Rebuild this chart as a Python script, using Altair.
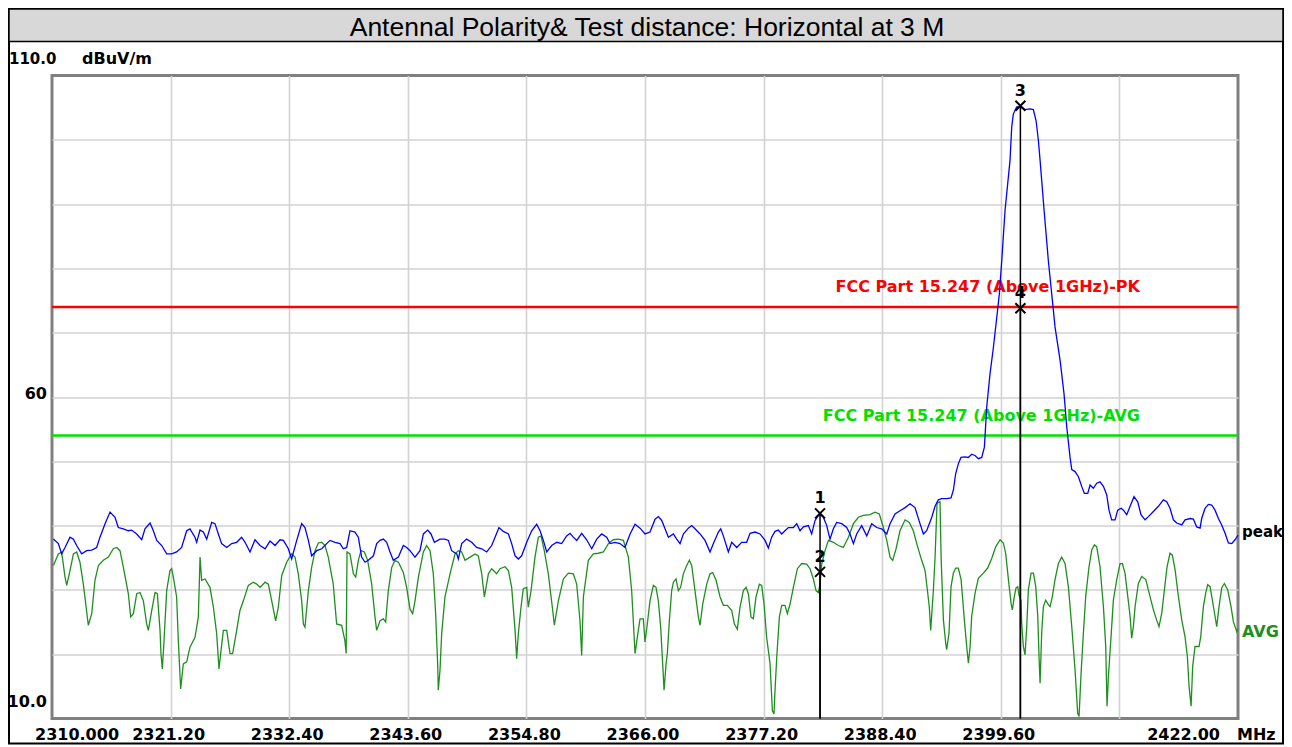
import altair as alt
import pandas as pd

# ---------------- data ----------------
TITLE = "Antennal Polarity& Test distance: Horizontal at 3 M"
UNIT_Y = "dBuV/m"
UNIT_X = "MHz"

PEAK_FREQ = [
    2310.13, 2310.60, 2310.91, 2311.23, 2311.70, 2312.02, 2312.33, 2312.80, 2313.27, 2313.75,
    2314.22, 2314.53, 2315.01, 2315.48, 2315.95, 2316.26, 2316.74, 2317.21, 2317.52, 2318.00,
    2318.47, 2318.78, 2319.26, 2319.57, 2319.89, 2320.36, 2320.83, 2321.30, 2321.77, 2322.24,
    2322.72, 2323.03, 2323.50, 2323.66, 2323.98, 2324.29, 2324.61, 2325.08, 2325.39, 2325.71,
    2326.02, 2326.50, 2326.97, 2327.44, 2327.91, 2328.23, 2328.70, 2329.17, 2329.65, 2330.12,
    2330.59, 2331.06, 2331.53, 2331.85, 2332.32, 2332.63, 2333.11, 2333.58, 2333.89, 2334.21,
    2334.52, 2335.00, 2335.47, 2335.94, 2336.25, 2336.73, 2337.20, 2337.51, 2337.83, 2338.14,
    2338.61, 2338.93, 2339.24, 2339.56, 2339.87, 2340.35, 2340.66, 2340.98, 2341.29, 2341.61,
    2341.92, 2342.23, 2342.71, 2343.18, 2343.49, 2343.81, 2344.28, 2344.75, 2345.07, 2345.48,
    2345.79, 2346.11, 2346.64, 2347.11, 2347.43, 2347.74, 2348.22, 2348.37, 2348.69, 2349.16,
    2349.63, 2350.10, 2350.58, 2351.05, 2351.52, 2351.84, 2352.21, 2352.62, 2353.10, 2353.41,
    2353.73, 2354.04, 2354.35, 2354.83, 2355.30, 2355.77, 2356.09, 2356.40, 2356.72, 2357.19,
    2357.66, 2358.13, 2358.60, 2358.92, 2359.23, 2359.55, 2360.02, 2360.49, 2360.97, 2361.44,
    2361.91, 2362.38, 2362.70, 2363.17, 2363.64, 2364.11, 2364.59, 2365.06, 2365.53, 2366.00,
    2366.47, 2366.95, 2367.26, 2367.58, 2367.89, 2368.21, 2368.68, 2368.99, 2369.31, 2369.62,
    2370.09, 2370.41, 2370.72, 2371.20, 2371.67, 2372.14, 2372.46, 2372.93, 2373.15, 2373.40,
    2373.87, 2374.19, 2374.66, 2375.13, 2375.60, 2375.92, 2376.39, 2376.86, 2377.34, 2377.65,
    2377.96, 2378.28, 2378.59, 2378.91, 2379.22, 2379.54, 2380.01, 2380.33, 2380.64, 2380.96,
    2381.43, 2381.74, 2382.06, 2382.47, 2382.84, 2383.16, 2383.47, 2383.79, 2384.10, 2384.58,
    2385.05, 2385.36, 2385.68, 2385.99, 2386.46, 2386.94, 2387.41, 2387.88, 2388.35, 2388.83,
    2389.14, 2389.61, 2390.08, 2390.56, 2391.03, 2391.50, 2391.97, 2392.29, 2392.60, 2393.08,
    2393.39, 2393.70, 2394.02, 2394.49, 2394.90, 2395.12, 2395.34, 2395.59, 2395.84, 2396.22,
    2396.53, 2396.85, 2397.16, 2397.48, 2397.80, 2398.05, 2398.27, 2398.58, 2398.90, 2399.22,
    2399.46, 2399.69, 2400.00, 2400.47, 2400.63, 2400.78, 2401.10, 2401.42, 2401.89, 2402.36,
    2402.67, 2402.93, 2403.15, 2403.31, 2403.69, 2404.09, 2404.41, 2404.72, 2405.20, 2405.57,
    2405.83, 2406.14, 2406.30, 2406.61, 2406.93, 2407.24, 2407.49, 2407.81, 2408.03, 2408.34,
    2408.66, 2408.97, 2409.29, 2409.60, 2409.82, 2410.07, 2410.39, 2410.64, 2410.96, 2411.18,
    2411.49, 2411.81, 2412.18, 2412.53, 2412.84, 2413.22, 2413.54, 2414.01, 2414.48, 2414.95,
    2415.27, 2415.58, 2415.90, 2416.21, 2416.69, 2417.00, 2417.47, 2417.79, 2418.10, 2418.42,
    2418.57, 2418.89, 2419.20, 2419.52, 2419.83, 2420.15, 2420.46, 2420.78, 2421.09, 2421.41,
    2421.72, 2422.00,
]
PEAK_LEVEL = [
    37.9, 37.2, 35.6, 36.6, 38.2, 37.9, 36.9, 35.6, 36.1, 36.2,
    36.6, 38.2, 40.3, 42.1, 41.3, 39.7, 39.5, 39.2, 39.3, 38.7,
    37.8, 39.5, 40.4, 39.2, 37.7, 36.9, 35.6, 35.6, 35.9, 36.6,
    39.2, 39.5, 38.2, 37.4, 39.3, 39.0, 37.9, 40.5, 40.3, 38.7,
    37.2, 36.6, 37.2, 37.4, 38.2, 37.4, 35.9, 37.8, 36.9, 36.4,
    37.6, 36.9, 37.8, 37.7, 36.4, 34.8, 37.7, 40.3, 39.7, 37.7,
    35.3, 36.1, 36.4, 37.2, 37.7, 37.4, 37.2, 36.4, 36.6, 39.2,
    39.0, 38.2, 35.1, 34.3, 34.6, 35.3, 37.2, 37.7, 37.9, 37.4,
    35.9, 34.6, 35.1, 36.9, 36.6, 36.1, 35.1, 36.1, 38.7, 39.3,
    38.7, 37.4, 37.9, 37.9, 37.7, 36.1, 35.6, 34.8, 37.2, 37.9,
    37.4, 36.6, 36.4, 35.9, 36.9, 38.2, 39.7, 39.1, 38.7, 37.2,
    35.3, 34.8, 35.3, 37.4, 39.2, 40.2, 39.2, 37.7, 35.9, 36.9,
    37.4, 37.2, 38.4, 38.8, 38.2, 37.7, 38.8, 37.8, 36.4, 37.9,
    38.7, 38.2, 37.2, 37.4, 37.2, 36.6, 38.7, 40.2, 39.6, 38.7,
    39.0, 41.0, 41.4, 40.8, 39.5, 38.2, 38.7, 37.9, 37.2, 38.7,
    39.6, 40.0, 39.5, 38.7, 37.7, 35.9, 37.2, 39.0, 39.5, 38.4,
    35.9, 37.4, 36.6, 37.4, 37.4, 38.8, 39.0, 38.7, 37.7, 36.5,
    38.2, 39.1, 39.3, 38.7, 39.2, 39.7, 39.7, 40.3, 39.2, 39.8,
    40.0, 38.7, 40.8, 41.8, 41.3, 40.0, 37.9, 39.5, 40.5, 40.3,
    39.7, 38.7, 37.2, 38.7, 40.0, 38.4, 40.3, 39.7, 39.5, 38.7,
    40.3, 41.8, 42.3, 42.8, 43.4, 42.8, 40.3, 38.7, 39.2, 41.3,
    43.0, 44.0, 44.2, 44.2, 44.3, 45.5, 48.1, 49.6, 50.6, 50.7,
    50.6, 51.1, 50.9, 50.4, 50.6, 52.2, 58.4, 63.6, 67.7, 72.4,
    76.0, 81.2, 89.0, 96.8, 102.0, 104.0, 105.1, 105.1, 104.7, 104.8,
    104.7, 103.0, 99.9, 96.8, 89.0, 81.2, 76.0, 70.9, 65.7, 60.5,
    55.3, 50.6, 48.7, 48.4, 47.6, 46.1, 45.0, 45.0, 46.3, 45.8,
    46.6, 46.8, 46.1, 44.8, 42.4, 40.9, 40.9, 42.4, 42.7, 42.4,
    41.7, 43.0, 44.5, 43.7, 41.7, 40.9, 41.4, 42.2, 43.0, 44.0,
    43.7, 42.7, 40.9, 40.4, 40.1, 40.9, 41.1, 41.0, 39.8, 39.6,
    41.1, 42.7, 43.3, 43.2, 42.4, 41.1, 40.1, 38.8, 37.3, 37.2,
    37.8, 38.5,
]

AVG_FREQ = [
    2310.13, 2310.60, 2310.91, 2311.23, 2311.39, 2311.70, 2312.02, 2312.33, 2312.64, 2312.96,
    2313.43, 2313.75, 2314.06, 2314.38, 2314.85, 2315.32, 2315.79, 2316.11, 2316.42, 2316.74,
    2317.21, 2317.43, 2317.68, 2318.00, 2318.31, 2318.63, 2318.94, 2319.10, 2319.42, 2319.73,
    2319.95, 2320.20, 2320.29, 2320.42, 2320.58, 2320.83, 2321.14, 2321.30, 2321.46, 2321.77,
    2321.93, 2322.15, 2322.40, 2322.72, 2323.03, 2323.50, 2323.82, 2323.98, 2324.13, 2324.45,
    2324.92, 2325.24, 2325.55, 2325.77, 2325.93, 2326.18, 2326.50, 2326.81, 2327.06, 2327.44,
    2327.75, 2328.07, 2328.54, 2329.01, 2329.33, 2329.65, 2330.12, 2330.43, 2330.75, 2331.12,
    2331.37, 2331.69, 2332.16, 2332.63, 2332.95, 2333.26, 2333.58, 2333.74, 2333.89, 2334.21,
    2334.52, 2334.84, 2335.15, 2335.47, 2335.78, 2336.09, 2336.56, 2336.88, 2337.35, 2337.66,
    2337.78, 2337.86, 2338.14, 2338.46, 2338.68, 2338.93, 2339.18, 2339.50, 2339.81, 2340.19,
    2340.50, 2340.66, 2340.98, 2341.29, 2341.51, 2341.76, 2342.08, 2342.39, 2342.71, 2343.18,
    2343.49, 2343.81, 2344.06, 2344.28, 2344.60, 2345.07, 2345.38, 2345.70, 2346.01, 2346.23,
    2346.42, 2346.48, 2346.64, 2346.80, 2347.11, 2347.59, 2348.06, 2348.37, 2348.69, 2349.00,
    2349.48, 2349.95, 2350.26, 2350.58, 2350.83, 2351.21, 2351.52, 2351.99, 2352.31, 2352.78,
    2353.10, 2353.41, 2353.73, 2353.88, 2354.04, 2354.29, 2354.51, 2354.83, 2354.98, 2355.24,
    2355.61, 2355.93, 2356.18, 2356.49, 2356.87, 2357.25, 2357.44, 2357.82, 2358.29, 2358.76,
    2359.23, 2359.55, 2359.86, 2360.02, 2360.18, 2360.65, 2361.12, 2361.59, 2362.07, 2362.54,
    2363.01, 2363.48, 2363.96, 2364.43, 2364.74, 2365.06, 2365.37, 2365.53, 2365.84, 2366.00,
    2366.22, 2366.47, 2366.79, 2367.04, 2367.26, 2367.48, 2367.67, 2367.80, 2367.99, 2368.11,
    2368.30, 2368.52, 2368.68, 2368.93, 2369.15, 2369.37, 2369.62, 2369.94, 2370.19, 2370.41,
    2370.72, 2371.04, 2371.20, 2371.45, 2371.83, 2372.14, 2372.39, 2372.71, 2373.09, 2373.40,
    2373.78, 2374.19, 2374.44, 2374.72, 2374.97, 2375.29, 2375.54, 2375.76, 2376.01, 2376.23,
    2376.48, 2376.80, 2377.02, 2377.24, 2377.49, 2377.81, 2378.03, 2378.18, 2378.28, 2378.44,
    2378.69, 2378.91, 2379.22, 2379.44, 2379.70, 2380.01, 2380.39, 2380.80, 2381.27, 2381.58,
    2381.90, 2382.15, 2382.37, 2382.53, 2382.69, 2383.00, 2383.32, 2383.79, 2384.26, 2384.73,
    2385.21, 2385.68, 2386.15, 2386.62, 2387.25, 2387.72, 2388.13, 2388.51, 2388.83, 2389.14,
    2389.39, 2389.71, 2390.08, 2390.56, 2390.96, 2391.34, 2391.66, 2392.13, 2392.45, 2392.67,
    2392.85, 2392.98, 2393.23, 2393.39, 2393.58, 2393.86, 2393.96, 2394.18, 2394.40, 2394.49,
    2394.71, 2394.90, 2395.12, 2395.34, 2395.59, 2395.85, 2396.16, 2396.38, 2396.54, 2396.70,
    2396.85, 2397.17, 2397.48, 2397.95, 2398.36, 2398.74, 2399.12, 2399.53, 2399.84, 2400.06,
    2400.32, 2400.57, 2400.69, 2400.88, 2401.04, 2401.20, 2401.32, 2401.51, 2401.57, 2401.73,
    2401.89, 2402.05, 2402.20, 2402.46, 2402.68, 2402.90, 2403.09, 2403.21, 2403.31, 2403.46,
    2403.62, 2403.84, 2404.09, 2404.25, 2404.47, 2404.72, 2405.04, 2405.35, 2405.67, 2405.98,
    2406.30, 2406.61, 2406.86, 2406.99, 2407.18, 2407.40, 2407.62, 2407.93, 2408.19, 2408.44,
    2408.66, 2408.97, 2409.29, 2409.51, 2409.63, 2409.76, 2410.01, 2410.23, 2410.55, 2410.86,
    2411.08, 2411.33, 2411.59, 2411.81, 2411.96, 2412.12, 2412.28, 2412.59, 2412.91, 2413.29,
    2413.69, 2414.01, 2414.32, 2414.54, 2414.80, 2415.05, 2415.30, 2415.58, 2415.80, 2416.06,
    2416.37, 2416.69, 2417.00, 2417.22, 2417.38, 2417.57, 2417.72, 2417.94, 2418.32, 2418.48,
    2418.73, 2418.95, 2419.14, 2419.36, 2419.58, 2419.83, 2419.99, 2420.21, 2420.46, 2420.71,
    2421.03, 2421.34, 2421.56, 2421.88, 2422.00,
]
AVG_LEVEL = [
    33.8, 35.6, 35.9, 32.0, 30.7, 33.0, 35.6, 35.9, 34.3, 30.9,
    24.5, 26.3, 31.5, 33.8, 34.6, 35.1, 36.4, 36.6, 36.1, 33.5,
    29.4, 25.8, 26.3, 29.4, 29.6, 28.3, 24.7, 23.7, 26.8, 29.6,
    29.4, 23.7, 20.1, 17.7, 22.1, 29.9, 33.0, 33.3, 32.0, 28.9,
    22.1, 14.6, 18.5, 18.8, 21.1, 22.6, 25.8, 35.1, 31.5, 31.7,
    30.4, 27.3, 23.2, 17.7, 20.1, 23.7, 23.7, 20.1, 20.1, 23.7,
    26.8, 28.3, 30.7, 31.2, 30.9, 30.4, 31.2, 30.9, 28.3, 25.2,
    27.3, 32.2, 34.3, 35.6, 35.1, 32.5, 28.3, 24.7, 24.2, 29.9,
    33.5, 36.1, 37.3, 37.4, 36.9, 35.1, 30.9, 24.7, 24.5, 22.1,
    20.1, 35.9, 35.6, 32.5, 32.0, 34.6, 36.1, 35.9, 34.6, 30.9,
    25.8, 23.7, 25.2, 25.5, 25.0, 29.9, 33.5, 34.6, 34.3, 32.7,
    30.4, 27.0, 26.3, 28.3, 32.0, 35.9, 36.9, 36.1, 32.5, 26.3,
    18.5, 14.4, 17.5, 23.2, 28.9, 32.5, 35.6, 36.1, 35.9, 34.6,
    35.1, 35.6, 35.3, 32.5, 28.9, 32.5, 33.3, 32.5, 33.3, 33.6,
    33.0, 30.4, 23.7, 19.3, 23.2, 27.3, 30.2, 30.4, 27.3, 29.9,
    35.1, 38.2, 38.4, 36.1, 32.5, 27.3, 24.5, 28.3, 31.7, 32.6,
    32.5, 30.9, 25.2, 19.8, 28.9, 34.6, 35.6, 35.7, 35.9, 37.2,
    37.8, 37.9, 37.7, 35.1, 29.9, 20.1, 23.7, 25.5, 25.5, 21.9,
    24.7, 28.3, 30.7, 30.4, 28.3, 24.2, 18.5, 14.4, 18.5, 20.1,
    25.2, 29.9, 31.2, 31.7, 29.9, 30.4, 32.5, 33.8, 34.6, 33.8,
    29.9, 25.8, 24.5, 27.8, 30.9, 32.5, 32.7, 31.5, 28.9, 27.6,
    27.6, 26.8, 24.7, 23.9, 27.3, 29.9, 30.4, 29.4, 25.8, 25.5,
    28.9, 30.9, 30.7, 27.8, 22.6, 18.5, 11.2, 10.7, 14.4, 19.5,
    25.8, 27.6, 27.6, 26.3, 27.8, 30.4, 33.3, 34.1, 34.0, 33.3,
    31.7, 29.9, 29.6, 30.9, 34.0, 36.1, 37.7, 37.4, 36.9, 36.6,
    38.2, 40.3, 41.3, 41.6, 41.7, 42.1, 41.8, 39.7, 37.7, 35.1,
    34.6, 36.4, 39.2, 40.9, 40.5, 39.2, 37.2, 34.6, 33.0, 29.9,
    27.3, 23.7, 29.9, 35.0, 43.5, 43.7, 35.2, 25.3, 21.7, 20.7,
    23.3, 30.5, 32.6, 33.4, 33.4, 31.6, 25.3, 21.2, 18.6, 21.2,
    25.9, 29.5, 31.8, 32.6, 33.4, 34.9, 36.7, 37.8, 37.3, 35.7,
    31.6, 27.9, 26.9, 29.0, 30.3, 30.5, 29.2, 28.4, 24.8, 21.2,
    19.9, 24.3, 30.0, 32.6, 32.6, 30.5, 25.9, 19.6, 15.5, 23.3,
    27.4, 28.4, 27.7, 27.4, 29.0, 31.6, 34.1, 35.1, 34.1, 30.5,
    24.3, 17.6, 10.8, 10.3, 17.0, 23.3, 29.0, 33.6, 36.2, 37.0,
    36.7, 33.6, 27.4, 21.2, 11.9, 16.5, 22.7, 28.4, 31.6, 34.1,
    34.1, 32.6, 29.0, 25.9, 22.5, 24.3, 27.4, 31.0, 32.1, 31.6,
    29.0, 26.9, 25.3, 24.3, 26.4, 30.0, 33.6, 35.7, 35.4, 33.1,
    29.0, 25.3, 22.7, 19.6, 15.0, 11.9, 18.1, 21.2, 21.2, 22.7,
    27.4, 29.5, 30.8, 30.5, 28.4, 25.9, 24.3, 27.4, 30.3, 31.0,
    30.0, 27.4, 25.1, 23.5, 24.0,
]

LIMIT_NAMES = ["FCC Part 15.247 (Above 1GHz)-PK", "FCC Part 15.247 (Above 1GHz)-AVG"]
LIMIT_LEVELS = [74, 54]

MARKER_IDS = ["1", "2", "3", "4"]
MARKER_FREQ = [2382.53, 2382.53, 2401.45, 2401.45]
MARKER_LEVEL = [41.9, 32.8, 105.3, 73.8]

X_GRID = [2321.2, 2332.4, 2343.6, 2354.8, 2366.0, 2377.2, 2388.4, 2399.6, 2410.8]
Y_GRID = [20, 30, 40, 50, 60, 70, 80, 90, 100]
X_TICK_VALUES = [2310.0, 2321.2, 2332.4, 2343.6, 2354.8, 2366.0, 2377.2, 2388.4, 2399.6, 2422.0]
X_TICK_LABELS = ["2310.000", "2321.20", "2332.40", "2343.60", "2354.80", "2366.00",
                 "2377.20", "2388.40", "2399.60", "2422.00"]
Y_LABEL_VALUES = [110, 60, 10]
Y_LABEL_TEXT = ["110.0", "60", "10.0"]
TRACE_NAMES = ["peak", "AVG"]

# ---------------- styling ----------------
BLUE = "#0000ff"
DKGREEN = "#1e8f1e"
RED = "#ff0000"
LIME = "#00e000"
GRID = "#d2d2d2"
FONT = "DejaVu Sans"
W, H = 1186, 643

XS = alt.Scale(domain=[2310, 2422], nice=False, zero=False)
YS = alt.Scale(domain=[10, 110], nice=False, zero=False)
XAX = alt.Axis(values=X_GRID, grid=True, labels=False, ticks=False, domain=False,
               title=None, gridColor=GRID, gridWidth=1.6)
YAX = alt.Axis(values=Y_GRID, grid=True, labels=False, ticks=False, domain=False,
               title=None, gridColor=GRID, gridWidth=1.6)


def X(f):
    return alt.X(f, type="quantitative", scale=XS, axis=XAX)


def Y(f):
    return alt.Y(f, type="quantitative", scale=YS, axis=YAX)


peak_df = pd.DataFrame({"freq": PEAK_FREQ, "level": PEAK_LEVEL})
avg_df = pd.DataFrame({"freq": AVG_FREQ, "level": AVG_LEVEL})
lim_df = pd.DataFrame({"name": LIMIT_NAMES, "level": LIMIT_LEVELS})
mk_df = pd.DataFrame({"id": MARKER_IDS, "freq": MARKER_FREQ, "level": MARKER_LEVEL})
tick_df = pd.DataFrame({"freq": X_TICK_VALUES, "label": X_TICK_LABELS})
ylab_df = pd.DataFrame({"level": Y_LABEL_VALUES, "label": Y_LABEL_TEXT})
one = pd.DataFrame({"k": [0]})

# frame + title band
frame = alt.Chart(one).mark_rect(fillOpacity=0, stroke="black", strokeWidth=2).encode(
    x=alt.value(-43), x2=alt.value(1231), y=alt.value(-66.5), y2=alt.value(668))
band = alt.Chart(one).mark_rect(fill="#d8d8d8", stroke="black", strokeWidth=1.5).encode(
    x=alt.value(-43), x2=alt.value(1231), y=alt.value(-66.5), y2=alt.value(-34))
title = alt.Chart(one).mark_text(font="Liberation Sans", fontSize=26.5, align="center",
                                 baseline="alphabetic", color="black").encode(
    x=alt.value(595), y=alt.value(-39.5), text=alt.value(TITLE))

lim_color = alt.Color("name:N", scale=alt.Scale(domain=LIMIT_NAMES, range=[RED, LIME]), legend=None)
limits = alt.Chart(lim_df).mark_rule(strokeWidth=2.5).encode(y=Y("level"), color=lim_color)
lim_text = alt.Chart(lim_df).mark_text(font=FONT, fontSize=16, fontWeight="bold", align="right",
                                       baseline="alphabetic", dy=-14.5).encode(
    x=alt.value(1088), y=Y("level"), text="name:N", color=lim_color)

avg_line = alt.Chart(avg_df).mark_line(color=DKGREEN, strokeWidth=1.3).encode(x=X("freq"), y=Y("level"))
peak_line = alt.Chart(peak_df).mark_line(color=BLUE, strokeWidth=1.3).encode(x=X("freq"), y=Y("level"))

mk_rule = alt.Chart(mk_df).mark_rule(color="black", strokeWidth=1.5).encode(
    x=X("freq"), y=Y("level"), y2=alt.datum(10))
mk_pts = alt.Chart(mk_df).mark_point(shape="M-1,-1L1,1M-1,1L1,-1", size=100, filled=False,
                                     color="black", strokeWidth=2, opacity=1).encode(
    x=X("freq"), y=Y("level"))
mk_txt = alt.Chart(mk_df).mark_text(font=FONT, fontSize=16, fontWeight="bold", baseline="alphabetic",
                                    align="center", dy=-10, color="black").encode(
    x=X("freq"), y=Y("level"), text="id:N")

tick_first = alt.Chart(tick_df.iloc[:1]).mark_text(font=FONT, fontSize=16, fontWeight="bold",
                                                   align="left", baseline="alphabetic", dx=-17,
                                                   color="black").encode(
    x=X("freq"), y=alt.value(664), text="label:N")
tick_mid = alt.Chart(tick_df.iloc[1:-1]).mark_text(font=FONT, fontSize=16, fontWeight="bold",
                                                   align="center", baseline="alphabetic", dx=-2,
                                                   color="black").encode(
    x=X("freq"), y=alt.value(664), text="label:N")
tick_last = alt.Chart(tick_df.iloc[-1:]).mark_text(font=FONT, fontSize=16, fontWeight="bold",
                                                   align="right", baseline="alphabetic", dx=-18,
                                                   color="black").encode(
    x=X("freq"), y=alt.value(664), text="label:N")
unit_x = alt.Chart(one).mark_text(font=FONT, fontSize=16, fontWeight="bold", align="left",
                                  baseline="alphabetic", color="black").encode(
    x=alt.value(1185), y=alt.value(664), text=alt.value(UNIT_X))

ylab_top = alt.Chart(ylab_df.iloc[:1]).mark_text(font=FONT, fontSize=15, fontWeight="bold", align="left",
                                                 baseline="alphabetic", dy=-12, color="black").encode(
    x=alt.value(-43), y=Y("level"), text="label:N")
ylab_mid = alt.Chart(ylab_df.iloc[1:2]).mark_text(font=FONT, fontSize=16, fontWeight="bold", align="right",
                                                  baseline="alphabetic", dy=2, color="black").encode(
    x=alt.value(-5), y=Y("level"), text="label:N")
ylab_bot = alt.Chart(ylab_df.iloc[2:]).mark_text(font=FONT, fontSize=16, fontWeight="bold", align="right",
                                                 baseline="alphabetic", dy=-12, color="black").encode(
    x=alt.value(-5), y=Y("level"), text="label:N")
unit_y = alt.Chart(one).mark_text(font=FONT, fontSize=16, fontWeight="bold", align="left",
                                  baseline="alphabetic", dy=-12, color="black").encode(
    x=alt.value(30), y=alt.value(0), text=alt.value(UNIT_Y))

peak_lab = alt.Chart(one).mark_text(font=FONT, fontSize=15, fontWeight="bold", align="left",
                                    baseline="alphabetic", color="black").encode(
    x=alt.value(1190), y=alt.value(461), text=alt.value(TRACE_NAMES[0]))
avg_lab = alt.Chart(one).mark_text(font=FONT, fontSize=16, fontWeight="bold", align="left",
                                   baseline="alphabetic", color=DKGREEN).encode(
    x=alt.value(1190), y=alt.value(561), text=alt.value(TRACE_NAMES[1]))

chart = alt.layer(
    frame, band, title, limits, lim_text, avg_line, peak_line, mk_rule, mk_pts, mk_txt,
    tick_first, tick_mid, tick_last, unit_x, ylab_top, ylab_mid, ylab_bot, unit_y,
    peak_lab, avg_lab,
).properties(
    width=W, height=H,
    padding={"left": 44, "top": 67.5, "right": 46, "bottom": 26},
    autosize=alt.AutoSizeParams(type="none"),
).configure(background="white").configure_view(stroke="#808080", strokeWidth=3)

chart.save("out.html", embed_options={"renderer": "svg", "actions": False})
